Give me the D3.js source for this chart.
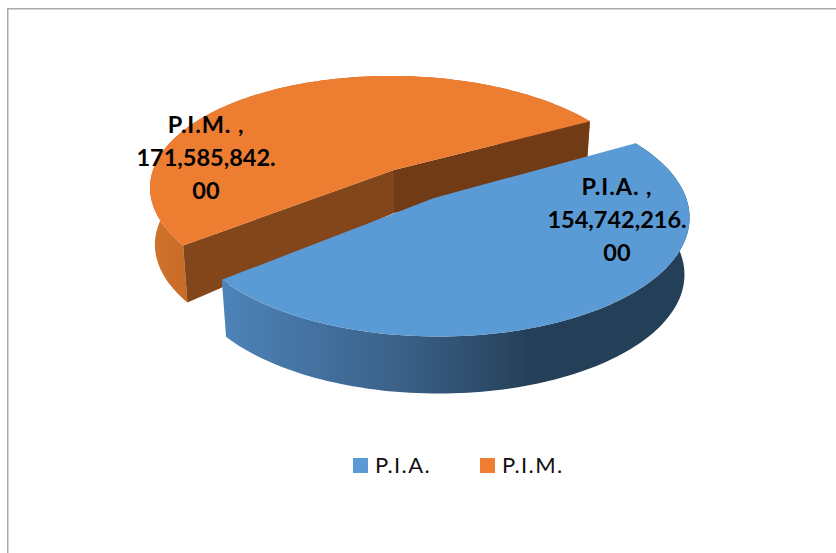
<!DOCTYPE html><html><head><meta charset="utf-8">
<style>html,body{margin:0;padding:0;background:#fff;overflow:hidden}svg{display:block}</style>
<script src="https://cdn.jsdelivr.net/npm/d3@7"></script></head><body>
<svg id="chart" width="836" height="553" xmlns="http://www.w3.org/2000/svg"></svg>
<script>
const categories = ["P.I.A.", "P.I.M."];
const seriesValues = [154742216, 171585842];
const sliceColors = ["#5b9bd5", "#ec7d31"];

// Projection of each exploded slice from the unit disc on to the page.
const views = [
  {tip:[434,198], A:250.54, B:-0.33, C:1.15, D:117.2, E:-0.008, F:-0.1539, rot:-0.5334, depth:57, tipDepth:57},
  {tip:[394,170], A:243.05, B:0.80, C:2.37, D:111, E:-0.0119, F:-0.18, rot:-0.5144, depth:57, tipDepth:43}
];
const labelAnchors = [{x:617, y:195}, {x:206, y:133}];

const svg = d3.select("#chart");
const defs = svg.append("defs");
const blueGrad = defs.append("linearGradient").attr("id","blueWall").attr("gradientUnits","userSpaceOnUse")
  .attr("x1",222).attr("x2",690).attr("y1",0).attr("y2",0);
[[0,"#4c83b8"],[0.22,"#436f9d"],[0.4,"#3a5f86"],[0.66,"#243f58"],[1,"#243f58"]]
  .forEach(([o,c])=>blueGrad.append("stop").attr("offset",o).attr("stop-color",c));
const orangeGrad = defs.append("linearGradient").attr("id","orangeWall").attr("gradientUnits","userSpaceOnUse")
  .attr("x1",150).attr("x2",195).attr("y1",0).attr("y2",0);
[[0,"#d0732c"],[1,"#c56a28"]].forEach(([o,c])=>orangeGrad.append("stop").attr("offset",o).attr("stop-color",c));

// Frame
const frame = svg.append("g").attr("stroke","#a9a9a9").attr("stroke-width",1.5).attr("fill","none");
frame.append("path").attr("d", d3.line()([[7.75,553],[7.75,8.75],[836,8.75]]));

const arcs = d3.pie().sort(null).value(d=>d)(seriesValues);
const line = d3.line();

function topPoint(v, phi){
  const u=Math.cos(phi), s=Math.sin(phi), w=1+v.E*u+v.F*s;
  return [v.tip[0]+(v.A*u+v.B*s)/w, v.tip[1]+(v.C*u+v.D*s)/w];
}
function basePoint(v, phi){
  const p=topPoint(v,phi);
  return [v.tip[0]+(p[0]-v.tip[0])*0.98, p[1]+v.depth];
}
function rim(v, a, fn){
  return d3.range(0,121).map(i=>fn(v, v.rot+a.startAngle+(a.endAngle-a.startAngle)*i/120));
}
const tipBase = v => [v.tip[0], v.tip[1]+v.tipDepth];

function drawWall(i, fill){
  const v=views[i], a=arcs[i];
  svg.append("path").attr("d", line(rim(v,a,topPoint).concat(rim(v,a,basePoint).reverse()))+"Z").attr("fill",fill);
}
function drawCut(i, angle, fill){
  const v=views[i], phi=v.rot+angle;
  svg.append("path").attr("d", line([v.tip, topPoint(v,phi), basePoint(v,phi), tipBase(v)])+"Z").attr("fill",fill);
}
function drawTop(i){
  const v=views[i], a=arcs[i];
  svg.append("path").attr("d", line([v.tip].concat(rim(v,a,topPoint)))+"Z").attr("fill",sliceColors[i]);
}

// P.I.M. slice (behind)
drawWall(1,"url(#orangeWall)");
drawCut(1, arcs[1].startAngle, "#83451a");
drawCut(1, arcs[1].endAngle, "#713b15");
drawTop(1);
// P.I.A. slice (front)
drawWall(0,"url(#blueWall)");
drawTop(0);

// Data labels
const font = "Lato, 'Open Sans', sans-serif";
const fmt = d3.format(",.2f");
categories.forEach((c,i)=>{
  const parts = fmt(seriesValues[i]).split(".");
  const lines = [c+" ,", parts[0]+".", parts[1]];
  const t = svg.append("text").attr("text-anchor","middle").attr("font-family",font)
    .attr("font-weight",700).attr("font-size",23.5).attr("fill","#000");
  lines.forEach((s,j)=>t.append("tspan").attr("x",labelAnchors[i].x).attr("y",labelAnchors[i].y+j*33)
    .attr("letter-spacing",j===0?0.9:0).text(s));
});

// Legend
const legendX = d3.scalePoint().domain(categories).range([353,480]);
const legend = svg.append("g").selectAll("g").data(categories).join("g")
  .attr("transform",d=>`translate(${legendX(d)},458)`);
legend.append("rect").attr("width",15).attr("height",15).attr("fill",(d,i)=>i?"#ef7d2f":"#5b9bd5");
legend.append("text").attr("x",22).attr("y",15).attr("font-family",font).attr("font-size",22)
  .attr("letter-spacing",1.4).attr("fill","#111").text(d=>d);
</script></body></html>
